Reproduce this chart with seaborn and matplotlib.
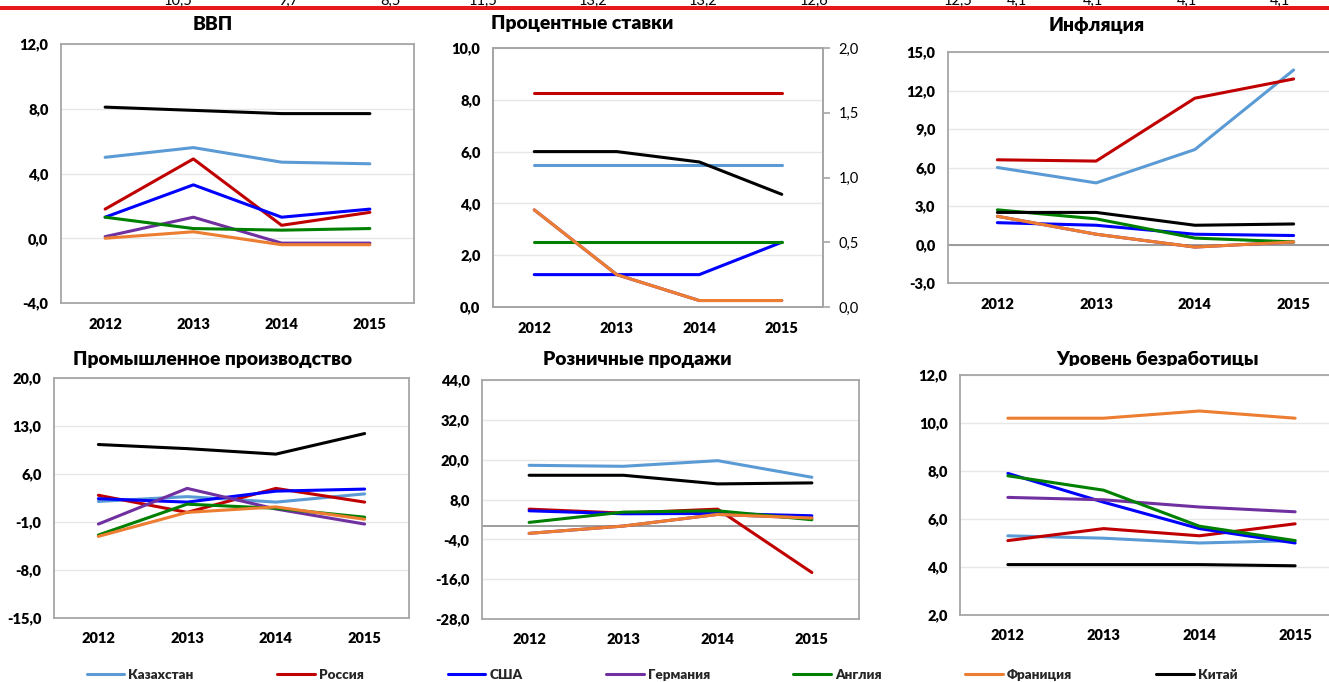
import matplotlib
matplotlib.use("Agg")
import matplotlib.pyplot as plt
import seaborn as sns
import numpy as np
import pandas as pd
from matplotlib.lines import Line2D
from matplotlib.ticker import FuncFormatter, FixedLocator
from matplotlib.transforms import Bbox

# ---------------- data ----------------
years = [2012, 2013, 2014, 2015]
countries = ["Казахстан", "Россия", "США", "Германия", "Англия", "Франиция", "Китай"]
palette = ["#5B9BD5", "#C00000", "#0000FF", "#7030A0", "#008000", "#ED7D31", "#000000"]

gdp = {
    "Казахстан": [5.0, 5.6, 4.7, 4.6],
    "Россия": [1.8, 4.9, 0.8, 1.6],
    "США": [1.3, 3.3, 1.3, 1.8],
    "Германия": [0.1, 1.3, -0.3, -0.3],
    "Англия": [1.3, 0.6, 0.5, 0.6],
    "Франиция": [0.0, 0.4, -0.4, -0.4],
    "Китай": [8.1, 7.9, 7.7, 7.7],
}
# interest rates: first three on the left axis, the rest on the right axis
rates_left = {
    "Казахстан": [5.5, 5.5, 5.5, 5.5],
    "Россия": [8.25, 8.25, 8.25, 8.25],
    "Китай": [6.0, 6.0, 5.6, 4.35],
}
rates_right = {
    "США": [0.25, 0.25, 0.25, 0.5],
    "Германия": [0.75, 0.25, 0.05, 0.05],
    "Англия": [0.5, 0.5, 0.5, 0.5],
    "Франиция": [0.75, 0.25, 0.05, 0.05],
}
inflation = {
    "Казахстан": [6.0, 4.8, 7.4, 13.6],
    "Россия": [6.6, 6.5, 11.4, 12.9],
    "США": [1.7, 1.5, 0.8, 0.7],
    "Германия": [2.2, 0.8, -0.2, 0.2],
    "Англия": [2.7, 2.0, 0.5, 0.2],
    "Франиция": [2.2, 0.8, -0.2, 0.2],
    "Китай": [2.5, 2.5, 1.5, 1.6],
}
industry = {
    "Казахстан": [2.0, 2.7, 1.9, 3.1],
    "Россия": [2.9, 0.4, 3.9, 1.9],
    "США": [2.4, 1.9, 3.5, 3.8],
    "Германия": [-1.3, 3.9, 0.9, -1.3],
    "Англия": [-2.9, 1.6, 1.0, -0.3],
    "Франиция": [-3.1, 0.4, 1.2, -0.6],
    "Китай": [10.3, 9.7, 8.9, 11.9],
}
retail = {
    "Казахстан": [18.3, 18.0, 19.7, 14.7],
    "Россия": [5.1, 3.9, 5.1, -14.0],
    "США": [4.6, 3.7, 3.8, 3.1],
    "Германия": [-2.2, 0.0, 3.5, 2.4],
    "Англия": [1.1, 4.2, 4.6, 1.9],
    "Франиция": [-2.2, 0.0, 3.5, 2.4],
    "Китай": [15.3, 15.3, 12.7, 13.0],
}
unemployment = {
    "Казахстан": [5.3, 5.2, 5.0, 5.1],
    "Россия": [5.1, 5.6, 5.3, 5.8],
    "США": [7.9, 6.7, 5.6, 5.0],
    "Германия": [6.9, 6.8, 6.5, 6.3],
    "Англия": [7.8, 7.2, 5.7, 5.1],
    "Франиция": [10.2, 10.2, 10.5, 10.2],
    "Китай": [4.1, 4.1, 4.1, 4.05],
}
top_row_values = ["10,5", "9,7", "8,5", "11,5", "13,2", "13,2", "12,6",
                  "12,5", "4,1", "4,1", "4,1", "4,1"]

# ---------------- style ----------------
sns.set_theme(style="white")
plt.rcParams["font.family"] = ["Lato", "DejaVu Sans"]
plt.rcParams["axes.unicode_minus"] = False

W, H = 1329, 682
fig = plt.figure(figsize=(W / 100, H / 100), dpi=100)
color_map = dict(zip(countries, palette))
LW = 2.2
FRAME = "#A6A6A6"
GRID = "#E7E7E7"
TICK_FS = 10.5
TITLE_FS = 13.9
WEIGHT = "heavy"


def px_axes(l, t, r, b):
    return fig.add_axes([l / W, 1 - b / H, (r - l) / W, (b - t) / H])


def to_long(d):
    rows = []
    for c, vals in d.items():
        for y, v in zip(years, vals):
            rows.append({"year": y, "country": c, "value": v})
    return pd.DataFrame(rows)


fmt = FuncFormatter(lambda v, p: f"{v:.1f}".replace(".", ","))


def style_axes(ax, lo, hi, step, xpad=11, zero=False):
    ax.set_xlim(2011.5, 2015.5)
    ax.set_ylim(lo, hi)
    ax.yaxis.set_major_locator(FixedLocator(np.arange(lo, hi + step / 2, step)))
    ax.yaxis.set_major_formatter(fmt)
    ax.set_xticks(years)
    ax.set_xticklabels([str(y) for y in years])
    ax.grid(axis="y", color=GRID, lw=1.0, zorder=0)
    ax.set_axisbelow(True)
    for s in ax.spines.values():
        s.set_color(FRAME)
        s.set_linewidth(1.3)
    ax.tick_params(axis="y", length=0, pad=9, labelsize=TICK_FS)
    ax.tick_params(axis="x", length=0, pad=xpad, labelsize=TICK_FS)
    for lab in ax.get_xticklabels() + ax.get_yticklabels():
        lab.set_fontweight(WEIGHT)
        lab.set_color("#000000")
    ax.set_xlabel("")
    ax.set_ylabel("")
    if zero:
        ax.axhline(0, color="#8C8C8C", lw=1.2, zorder=1.5)


def draw(ax, d):
    df = to_long(d)
    order = [c for c in countries if c in d]
    sns.lineplot(data=df, x="year", y="value", hue="country", hue_order=order,
                 palette=color_map, lw=LW, legend=False, ax=ax, sort=False)


def title(x, y, s, clip_y=None):
    t = fig.text(x / W, 1 - y / H, s, ha="center", va="center",
                 fontsize=TITLE_FS, fontweight=WEIGHT, color="#000000")
    if clip_y is not None:
        t.set_clip_box(Bbox.from_extents(0, H - clip_y, W, H))
        t.set_clip_on(True)
    return t


# Panel 1: GDP
ax1 = px_axes(61, 44, 414, 303)
draw(ax1, gdp)
style_axes(ax1, -4, 12, 4)
title(213, 24, "ВВП")

# Panel 2: interest rates (two axes)
ax2 = px_axes(493, 48, 823, 307)
draw(ax2, rates_left)
style_axes(ax2, 0, 10, 2)
ax2r = ax2.twinx()
draw(ax2r, rates_right)
ax2r.set_ylim(0, 2)
ax2r.yaxis.set_major_locator(FixedLocator(np.arange(0, 2.01, 0.5)))
ax2r.yaxis.set_major_formatter(fmt)
ax2r.set_ylabel("")
ax2r.grid(False)
for s in ax2r.spines.values():
    s.set_color(FRAME)
    s.set_linewidth(1.3)
ax2r.tick_params(axis="y", length=5, width=1.2, color=FRAME, pad=6,
                 labelsize=TICK_FS, labelcolor="#000000")
title(582, 24, "Процентные ставки")

# Panel 3: inflation
ax3 = px_axes(948, 52, 1343, 283)
draw(ax3, inflation)
style_axes(ax3, -3, 15, 3, zero=True)
title(1097, 25, "Инфляция")

# Panel 4: industrial production
ax4 = px_axes(54, 378, 409, 618)
draw(ax4, industry)
style_axes(ax4, -15, 20, 7, xpad=10)
title(213, 359, "Промышленное производство")

# Panel 5: retail sales
ax5 = px_axes(482, 380, 859, 619)
draw(ax5, retail)
style_axes(ax5, -28, 44, 12, xpad=10, zero=True)
title(637, 359, "Розничные продажи")

# Panel 6: unemployment
ax6 = px_axes(960, 375, 1343, 615)
draw(ax6, unemployment)
style_axes(ax6, 2, 12, 2, xpad=10)
title(1158, 360, "Уровень безработицы", clip_y=366)

# top strip (cut-off spreadsheet row and red line)
top_x = [178, 288, 390, 483, 593, 703, 814, 958, 1017, 1093, 1187, 1280]
for x, s in zip(top_x, top_row_values):
    fig.text(x / W, 1 - 4.5 / H, s, ha="center", va="baseline", fontsize=10.5,
             color="#000000")
fig.add_artist(Line2D([0, 1], [1 - 8 / H, 1 - 8 / H], transform=fig.transFigure,
                      color="#E8191A", lw=2.9))

# legend
handles = [Line2D([], [], color=c, lw=LW) for c in palette]
fig.legend(handles, countries, ncol=7, loc="center",
           bbox_to_anchor=(662 / W, 1 - 675 / H), frameon=False,
           prop={"weight": WEIGHT, "size": 9.7}, handlelength=2.8,
           handletextpad=0.3, columnspacing=6.2, borderpad=0.1)

fig.savefig("out.png", dpi=100)
